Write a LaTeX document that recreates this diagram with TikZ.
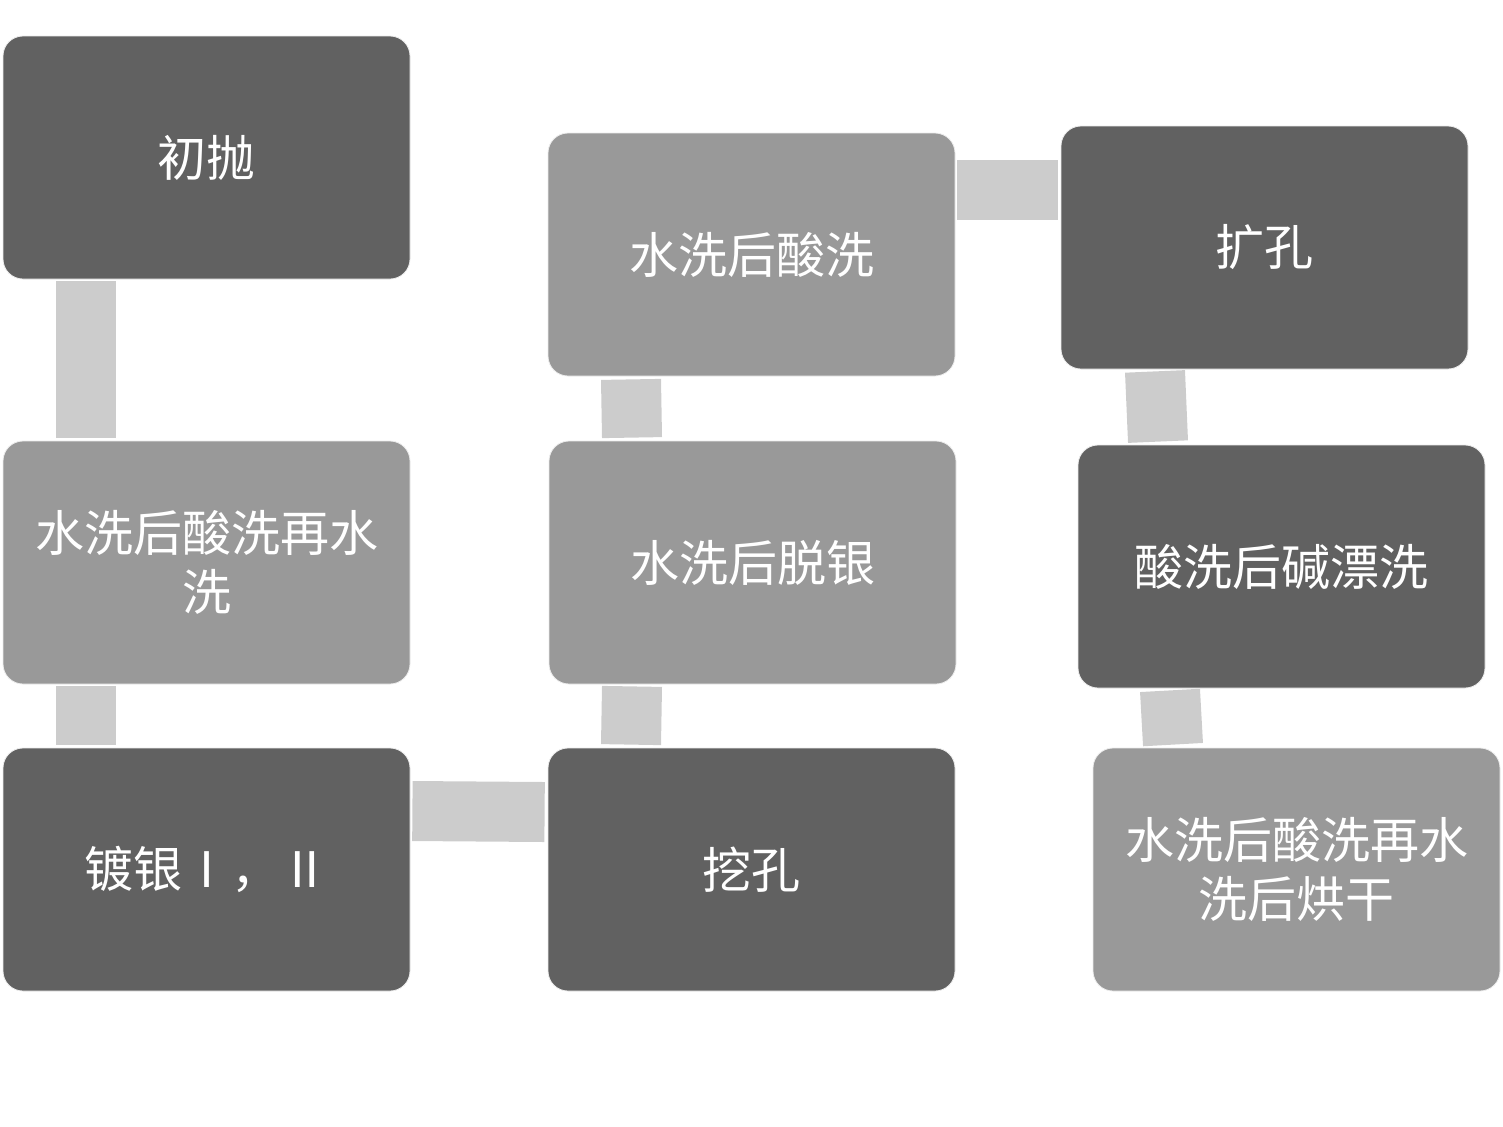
\documentclass[tikz,border=0pt]{standalone}
\usepackage{fontspec}
\newfontfamily\cjk{Noto Sans CJK SC}
\usetikzlibrary{positioning}

\begin{document}
\begin{tikzpicture}[x=0.5pt,y=-0.5pt,
    step box/.style={rectangle,rounded corners=10pt,draw=white!85!gray,line width=0.4pt,
        minimum width=203.5pt,minimum height=121.5pt,align=center,text=white,
        font=\cjk\fontsize{24.5pt}{29.5pt}\selectfont},
    dark box/.style={step box,fill=black!62},
    light box/.style={step box,fill=black!40},
    link/.style={line width=30pt,draw=black!20}]
        \useasboundingbox (0,0) rectangle (1503,1126);

        \coordinate (A) at (206.5,157.5);
        \coordinate (B) at (206.5,562.5);
        \coordinate (C) at (206.5,869.5);
        \coordinate (D) at (751.5,869.5);
        \coordinate (E) at (752.5,562.5);
        \coordinate (F) at (751.5,254.5);
        \coordinate (G) at (1264.5,247.5);
        \coordinate (H) at (1281.5,566.5);
        \coordinate (I) at (1296.5,869.5);

        \node[dark box] (chupao) at (A) {初抛};
        \node[light box] (shuixiA) at (B) {水洗后酸洗再水\\洗};
        \node[dark box] (duyin) at (C) {镀银Ⅰ，Ⅱ};
        \node[dark box] (wakong) at (D) {挖孔};
        \node[light box] (tuoyin) at (E) {水洗后脱银};
        \node[light box] (shuixiB) at (F) {水洗后酸洗};
        \node[dark box] (kuokong) at (G) {扩孔};
        \node[dark box] (jianxi) at (H) {酸洗后碱漂洗};
        \node[light box] (honggan) at (I) {水洗后酸洗再水\\洗后烘干};

        %############################################

        \draw[link] ([xshift=-60.25pt,yshift=-1pt]chupao.south) -- ([xshift=-60.25pt,yshift=1.5pt]shuixiA.north);
        \draw[link] ([xshift=-60.25pt,yshift=-1pt]shuixiA.south) -- ([xshift=-60.25pt,yshift=1.5pt]duyin.north);
        \draw[link] ([xshift=1pt,yshift=29.25pt]duyin.east) -- ([xshift=-1.5pt,yshift=28.75pt]wakong.west);
        \draw[link] ([xshift=-60.25pt,yshift=1.5pt]wakong.north) -- ([xshift=-60.25pt,yshift=-1pt]tuoyin.south);
        \draw[link] ([xshift=-60.25pt,yshift=1.5pt]tuoyin.north) -- ([xshift=-60.25pt,yshift=-1.5pt]shuixiB.south);
        \draw[link] ([xshift=1pt,yshift=32.25pt]shuixiB.east) -- ([xshift=-1.5pt,yshift=28.75pt]kuokong.west);
        \draw[link] ([xshift=-61.75pt,yshift=1.5pt]jianxi.north) -- ([xshift=-54.75pt,yshift=-1pt]kuokong.south);
        \draw[link] ([xshift=-61.75pt,yshift=1.5pt]honggan.north) -- ([xshift=-55.75pt,yshift=-1pt]jianxi.south);
\end{tikzpicture}
\end{document}
